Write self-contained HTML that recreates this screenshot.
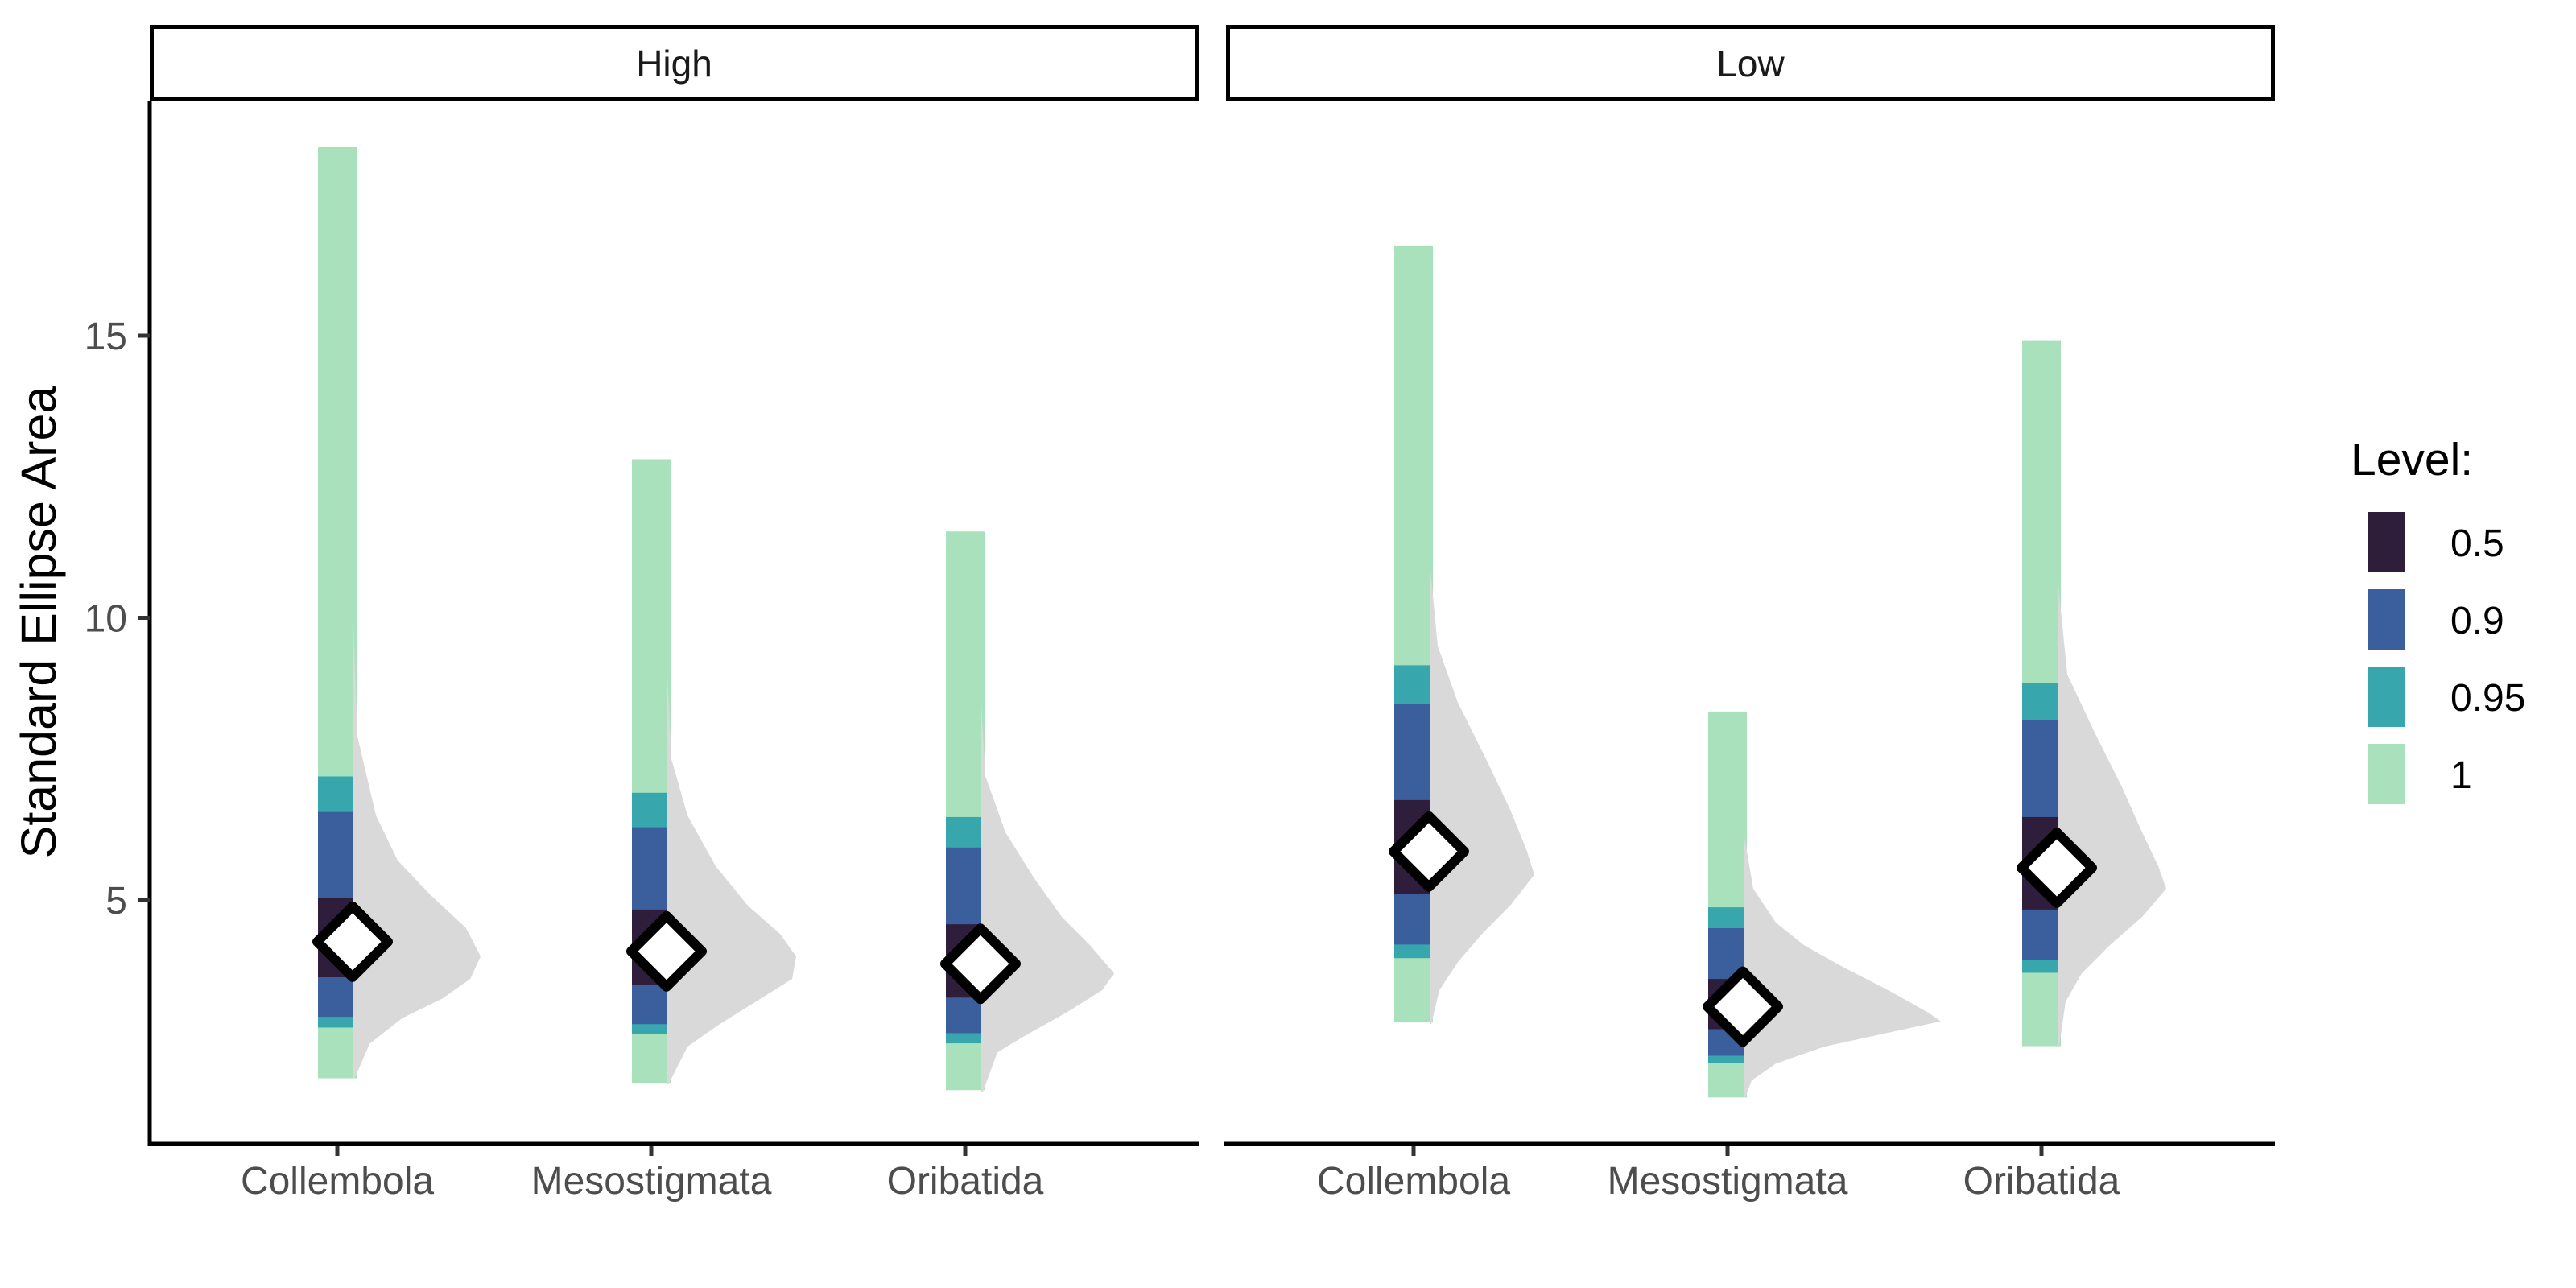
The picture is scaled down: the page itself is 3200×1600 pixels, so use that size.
<!DOCTYPE html>
<html><head><meta charset="utf-8"><style>
html,body{margin:0;padding:0;background:#fff;}
svg{display:block;font-family:"Liberation Sans",Arial,sans-serif;}
</style></head><body>
<svg id="chart" width="3200" height="1600" viewBox="0 0 3200 1600" xmlns="http://www.w3.org/2000/svg">
<rect x="0" y="0" width="3200" height="1600" fill="#fff"/>
<g id="panels"></g>
<text x="0" y="0" transform="translate(69,773) rotate(-90)" text-anchor="middle" font-size="61" fill="#000">Standard Ellipse Area</text>
<g id="legend"></g>
</svg>
<script>
// ---- data ----
const facets = ["High", "Low"];
const categories = ["Collembola", "Mesostigmata", "Oribatida"];
const yTicks = [5, 10, 15];
const levels = ["1", "0.95", "0.9", "0.5"];
const levelColors = ["#a8e1bc", "#37a7ad", "#3b5e9c", "#2e1e3b"];
const legendLabels = ["0.5", "0.9", "0.95", "1"];
const legendColors = ["#2e1e3b", "#3b5e9c", "#37a7ad", "#a8e1bc"];
// interval [lower, upper] per level (1, 0.95, 0.9, 0.5) for each facet/category
const highIntervals = [
  [[1.84,18.34],[2.74,7.19],[2.93,6.56],[3.63,5.04]],
  [[1.76,12.81],[2.62,6.90],[2.80,6.29],[3.49,4.83]],
  [[1.63,11.53],[2.46,6.47],[2.64,5.93],[3.27,4.57]]
];
const lowIntervals = [
  [[2.83,16.60],[3.97,9.16],[4.21,8.48],[5.10,6.77]],
  [[1.50,8.34],[2.11,4.87],[2.24,4.50],[2.71,3.60]],
  [[2.41,14.92],[3.71,8.84],[3.94,8.19],[4.83,6.47]]
];
const highModes = [4.26, 4.09, 3.87];
const lowModes = [5.86, 3.11, 5.57];
// density knots [value, density]
const highDensity = [
  [[9.9,0],[7.9,0.05],[6.5,0.28],[5.7,0.55],[5.1,0.95],[4.5,1.4],[4.0,1.58],[3.6,1.45],[3.25,1.1],[2.9,0.6],[2.45,0.2],[1.85,0.02]],
  [[9.0,0],[7.5,0.05],[6.5,0.25],[5.6,0.6],[4.9,1.0],[4.4,1.4],[4.0,1.6],[3.6,1.55],[3.2,1.1],[2.8,0.65],[2.4,0.25],[1.75,0.02]],
  [[8.5,0],[7.2,0.05],[6.2,0.3],[5.4,0.65],[4.7,1.0],[4.2,1.35],[3.7,1.65],[3.4,1.5],[3.0,1.05],[2.6,0.55],[2.3,0.2],[1.6,0.02]]
];
const lowDensity = [
  [[11.0,0],[9.5,0.1],[8.5,0.35],[7.5,0.7],[6.6,1.0],[5.9,1.2],[5.45,1.3],[4.9,1.0],[4.4,0.65],[3.9,0.35],[3.4,0.12],[2.8,0.02]],
  [[6.2,0],[5.2,0.12],[4.6,0.4],[4.2,0.75],[3.8,1.25],[3.4,1.8],[3.0,2.3],[2.85,2.45],[2.65,1.8],[2.4,1.0],[2.1,0.4],[1.8,0.1],[1.5,0.02]],
  [[10.7,0],[9.0,0.12],[8.0,0.45],[7.0,0.8],[6.2,1.05],[5.6,1.25],[5.2,1.35],[4.7,1.05],[4.2,0.65],[3.7,0.3],[3.2,0.1],[2.4,0.02]]
];
const facetIntervals = [highIntervals, lowIntervals];
const facetModes = [highModes, lowModes];
const facetDensity = [highDensity, lowDensity];

// ---- layout ----
const NS = "http://www.w3.org/2000/svg";
const panelLeft = [186, 1523], panelW = 1303, panelTop = 125, axisY = 1421;
function yScale(v){ return 1118 - (v - 5) * 70.1; }
function xScale(p, i){ return panelLeft[p] + 233 + i * 390; }
const densScale = 100;
function mk(tag, attrs, parent){ const e = document.createElementNS(NS, tag); for (const k in attrs) e.setAttribute(k, attrs[k]); parent.appendChild(e); return e; }
const panels = document.getElementById("panels");

facets.forEach((f, p) => {
  const g = mk("g", {}, panels);
  
  
  const L = panelLeft[p];
  const strip = mk("rect", {x: L + 2.5, y: 33.5, width: panelW - 5, height: 89, fill: "#fff", stroke: "#000", "stroke-width": 5}, g);
  
  
  const st = mk("text", {x: L + panelW / 2, y: 95, "text-anchor": "middle", "font-size": 46, fill: "#1a1a1a"}, g);
  st.textContent = f;
  
  

  categories.forEach((c, i) => {
    const cx = xScale(p, i);
    const iv = facetIntervals[p][i];
    const grp = mk("g", {}, g);
    
    
    iv.forEach((r, k) => {
      const y1 = yScale(r[1]), y0 = yScale(r[0]);
      const b = mk("rect", {x: cx - 24, y: y1, width: 48, height: y0 - y1, fill: levelColors[k]}, grp);
      
      
    });
    const base = cx + 20;
    const dk = facetDensity[p][i];
    let d = "M" + base + "," + yScale(dk[0][0]);
    dk.forEach(pt => { d += " L" + (base + pt[1] * densScale).toFixed(1) + "," + yScale(pt[0]).toFixed(1); });
    d += " L" + base + "," + yScale(dk[dk.length - 1][0]) + " Z";
    const dens = mk("path", {d: d, fill: "#d9d9d9", "stroke-linejoin": "round"}, grp);
    
    
    const my = yScale(facetModes[p][i]), mx = cx + 19, h = 44;
    const dm = mk("path", {d: `M${mx},${my - h} L${mx + h},${my} L${mx},${my + h} L${mx - h},${my} Z`, fill: "#fff", stroke: "#000", "stroke-width": 12, "stroke-linejoin": "round"}, grp);
    
    
    const t = mk("line", {x1: cx, x2: cx, y1: axisY, y2: axisY + 15, stroke: "#333", "stroke-width": 5}, g);
    
    
    const tl = mk("text", {x: cx, y: 1483, "text-anchor": "middle", "font-size": 48, fill: "#4d4d4d"}, g);
    tl.textContent = c;
    
    
  });
  const xa = mk("line", {x1: L - 2.5, x2: L + panelW, y1: axisY, y2: axisY, stroke: "#000", "stroke-width": 5}, g);
  
  
});

const ya = mk("line", {x1: 186, x2: 186, y1: panelTop, y2: axisY + 2.5, stroke: "#000", "stroke-width": 5}, panels);


yTicks.forEach(v => {
  const y = yScale(v);
  const t = mk("line", {x1: 172, x2: 186, y1: y, y2: y, stroke: "#333", "stroke-width": 5}, panels);
  
  
  const tl = mk("text", {x: 158, y: y + 17, "text-anchor": "end", "font-size": 48, fill: "#4d4d4d"}, panels);
  tl.textContent = v;
  
  
});

const lg = document.getElementById("legend");
const lt = mk("text", {x: 2920, y: 590, "font-size": 57, fill: "#000"}, lg);
lt.textContent = "Level:";


legendLabels.forEach((lab, k) => {
  const y = 636 + k * 96;
  const key = mk("rect", {x: 2942, y: y, width: 46, height: 75, fill: legendColors[k]}, lg);
  
  
  const tx = mk("text", {x: 3044, y: y + 55, "font-size": 48, fill: "#000"}, lg);
  tx.textContent = lab;
  
  
});
</script>
</body></html>
